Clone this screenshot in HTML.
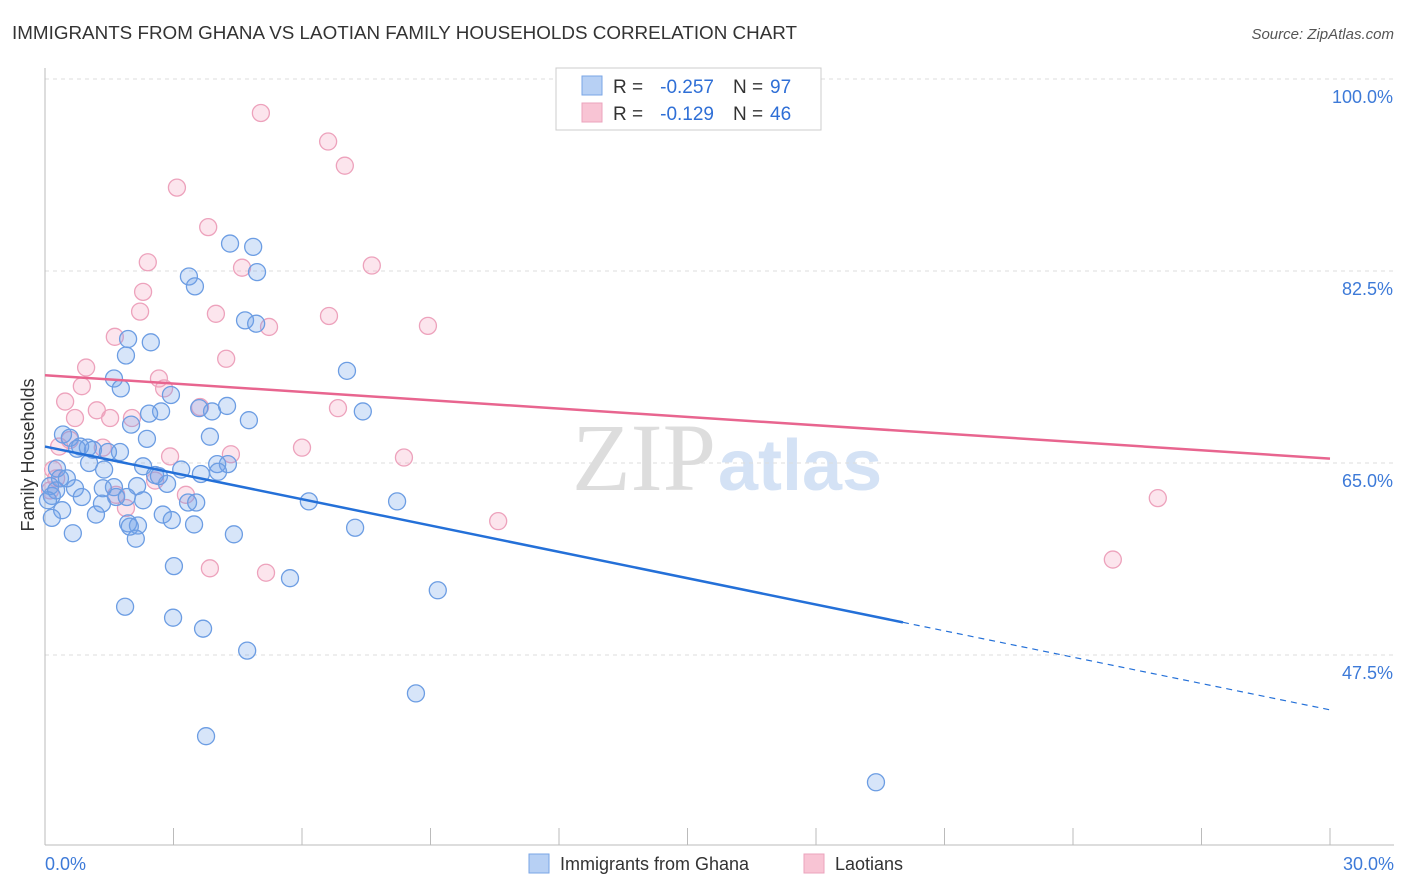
<!DOCTYPE html>
<html><head><meta charset="utf-8"><style>
body{margin:0;background:#fff;font-family:"Liberation Sans",sans-serif;}
svg{display:block}
</style></head><body>
<svg id="chart" width="1406" height="892">
<text x="12" y="39" font-size="18" fill="#333" textLength="785" lengthAdjust="spacingAndGlyphs">IMMIGRANTS FROM GHANA VS LAOTIAN FAMILY HOUSEHOLDS CORRELATION CHART</text>
<text x="1394" y="39" font-size="15" fill="#555" font-style="italic" text-anchor="end">Source: ZipAtlas.com</text>
<text x="716" y="490" font-size="96" fill="#ddd" font-family="Liberation Serif" text-anchor="end">ZIP</text>
<text x="718" y="490" font-size="72" fill="#d4e2f5" font-weight="bold">atlas</text>
<g id="grid"></g><g id="pts"></g><g id="trend"></g>
<text transform="translate(34,455) rotate(-90)" font-size="18" fill="#333" text-anchor="middle">Family Households</text>
<g>
<rect x="556" y="68" width="265" height="62" fill="#fff" stroke="#ccc"/>
<rect x="582" y="76" width="20" height="19" fill="#b7d0f4" stroke="#7aa6e6"/>
<rect x="582" y="103" width="20" height="19" fill="#f8c4d4" stroke="#eba3bd"/>
<text x="613" y="93" font-size="19" fill="#333">R =</text>
<text x="714" y="93" font-size="19" fill="#2f6fd6" text-anchor="end">-0.257</text>
<text x="733" y="93" font-size="19" fill="#333">N =</text>
<text x="770" y="93" font-size="19" fill="#2f6fd6">97</text>
<text x="613" y="120" font-size="19" fill="#333">R =</text>
<text x="714" y="120" font-size="19" fill="#2f6fd6" text-anchor="end">-0.129</text>
<text x="733" y="120" font-size="19" fill="#333">N =</text>
<text x="770" y="120" font-size="19" fill="#2f6fd6">46</text>
</g>
<g>
<rect x="529" y="854" width="20" height="19" fill="#b7d0f4" stroke="#7aa6e6"/>
<text x="560" y="870" font-size="18" fill="#333">Immigrants from Ghana</text>
<rect x="804" y="854" width="20" height="19" fill="#f8c4d4" stroke="#eba3bd"/>
<text x="835" y="870" font-size="18" fill="#333">Laotians</text>
</g>
</svg>
<script>
const yTicks=[100,82.5,65,47.5];
const yTickLabels=["100.0%","82.5%","65.0%","47.5%"];
const xTickLabels=["0.0%","30.0%"];
const blueX=[4.32,4.86,4.95,3.36,3.50,4.67,4.93,1.94,2.47,1.89,7.05,1.61,1.77,2.94,2.71,2.43,3.60,3.90,4.25,7.42,4.76,2.01,0.42,0.58,2.38,3.85,0.82,1.00,1.75,0.75,1.12,1.47,0.28,1.03,1.38,2.29,3.18,4.02,4.27,3.64,4.04,2.57,2.66,0.35,0.51,0.12,0.70,1.35,1.61,2.15,2.85,0.16,0.86,1.66,1.91,2.29,3.34,3.53,6.16,8.22,1.33,0.40,1.19,2.75,0.16,1.94,2.17,2.96,3.48,0.65,1.98,2.12,4.41,7.24,3.01,5.72,9.17,1.87,2.99,3.69,4.72,8.66,3.76,19.40,0.26,0.07];
const blueY=[85.0,84.7,82.4,82.0,81.1,78.0,77.7,76.3,76.0,74.8,73.4,72.7,71.8,71.2,69.7,69.5,70.0,69.7,70.2,69.7,68.9,68.5,67.6,67.3,67.2,67.4,66.5,66.4,66.0,66.3,66.2,66.0,64.5,65.0,64.4,64.7,64.4,64.9,64.9,64.0,64.2,63.9,63.8,63.6,63.6,62.9,62.7,62.7,62.8,62.9,63.1,62.0,61.9,61.9,61.9,61.6,61.4,61.4,61.5,61.5,61.3,60.7,60.3,60.3,60.0,59.5,59.3,59.8,59.4,58.6,59.2,58.1,58.5,59.1,55.6,54.5,53.4,51.9,50.9,49.9,47.9,44.0,40.1,35.9,62.5,61.6];
const pinkX=[5.04,6.61,7.00,3.08,3.81,2.40,4.60,7.63,2.29,2.22,3.99,6.63,5.23,8.94,1.63,4.23,0.96,2.66,0.86,2.78,0.47,1.21,3.62,6.84,0.70,1.52,2.03,0.58,1.35,4.34,6.00,8.38,2.92,0.33,0.19,0.26,2.57,3.29,1.89,0.12,10.58,3.85,5.16,25.98,24.93,1.66];
const pinkY=[96.9,94.3,92.1,90.1,86.5,83.3,82.8,83.0,80.6,78.8,78.6,78.4,77.4,77.5,76.5,74.5,73.7,72.7,72.0,71.8,70.6,69.8,70.1,70.0,69.1,69.1,69.1,67.1,66.4,65.8,66.4,65.5,65.6,66.5,64.4,63.6,63.4,62.1,60.9,62.5,59.7,55.4,55.0,61.8,56.2,62.1];
const blueTrend=[66.5,42.5], blueSolidEnd=20.03;
const pinkTrend=[73.0,65.4];
const NS="http://www.w3.org/2000/svg";
const X=v=>45+v/30*1285, Y=v=>79+(100-v)/17.5*192;
function mk(t,a,p){const e=document.createElementNS(NS,t);for(const k in a)e.setAttribute(k,a[k]);p.appendChild(e);return e;}
const grid=document.getElementById('grid');
yTicks.forEach((t,i)=>{
 const l=mk('line',{x1:45,x2:1394,y1:Y(t),y2:Y(t),stroke:'#ddd','stroke-dasharray':'4,4'},grid);
 
 
 const tx=mk('text',{x:1393,y:Y(t)+24,'font-size':18,fill:'#3d7ad8','text-anchor':'end'},grid);
 tx.textContent=yTickLabels[i];
 
 
});
mk('line',{x1:45,x2:45,y1:68,y2:845,stroke:'#bbb'},grid);
mk('line',{x1:45,x2:1394,y1:845,y2:845,stroke:'#bbb'},grid);
for(let i=0;i<=10;i++){const t=mk('line',{x1:X(i*3),x2:X(i*3),y1:828,y2:845,stroke:'#bbb'},grid);
 
 }
[[0,'start',45],[30,'end',1394]].forEach((d,i)=>{const t=mk('text',{x:d[2],y:870,'font-size':18,fill:'#3d7ad8','text-anchor':d[1]},grid);t.textContent=xTickLabels[i];
 
 });
const pts=document.getElementById('pts');
pinkX.forEach((x,i)=>{const c=mk('circle',{cx:X(x),cy:Y(pinkY[i]),r:8.5,fill:'rgba(244,160,190,0.28)',stroke:'#eda2bc','stroke-width':1.3},pts);
 
 });
blueX.forEach((x,i)=>{const c=mk('circle',{cx:X(x),cy:Y(blueY[i]),r:8.5,fill:'rgba(110,160,235,0.28)',stroke:'#6c9de3','stroke-width':1.3},pts);
 
 });
const tr=document.getElementById('trend');
const bAt=v=>blueTrend[0]+(blueTrend[1]-blueTrend[0])*v/30;
let l1=mk('line',{x1:X(0),y1:Y(bAt(0)),x2:X(blueSolidEnd),y2:Y(bAt(blueSolidEnd)),stroke:'#2470d8','stroke-width':2.5},tr);


let l2=mk('line',{x1:X(blueSolidEnd),y1:Y(bAt(blueSolidEnd)),x2:X(30),y2:Y(bAt(30)),stroke:'#2470d8','stroke-width':1.2,'stroke-dasharray':'6,5'},tr);


let l3=mk('line',{x1:X(0),y1:Y(pinkTrend[0]),x2:X(30),y2:Y(pinkTrend[1]),stroke:'#e8658f','stroke-width':2.5},tr);


</script>
</body></html>
